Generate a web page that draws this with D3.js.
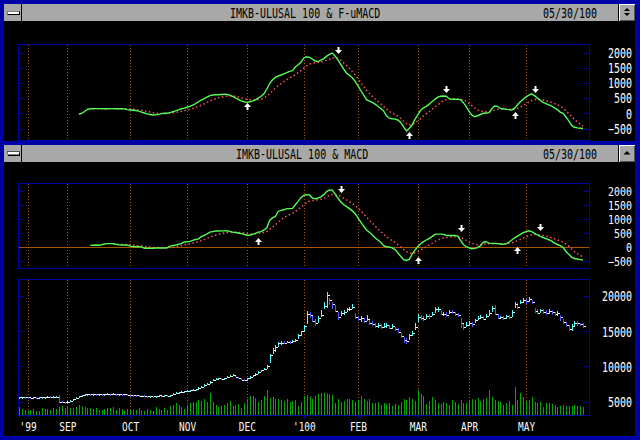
<!DOCTYPE html>
<html><head><meta charset="utf-8">
<script src="https://cdn.jsdelivr.net/npm/d3@7"></script>
<style>html,body{margin:0;padding:0;background:#000;}svg{display:block}</style>
</head><body><svg id="c" width="640" height="440"></svg>
<script>
// ---------------- DATA ----------------
const titles = ["IMKB-ULUSAL 100 & F-uMACD", "IMKB-ULUSAL 100 & MACD"];
const dateLabel = "05/30/100";
const monthLabels = ["'99","SEP","OCT","NOV","DEC","'100","FEB","MAR","APR","MAY"];
const monthIdx = [3,17,39,59,80,100,119,140,158,178];
const oscTicks = [2000,1500,1000,500,0,-500];
const priceTicks = [20000,15000,10000,5000];

const close = [
5650,5680,5620,5600,5590,5610,5580,5600,5620,5700,
5720,5690,5700,5730,5020,4980,4950,4980,5150,5350,
5550,5750,5980,6050,6080,6060,6100,6080,6110,6090,
6120,6140,6100,6130,6090,6110,6070,6040,6000,5960,
5920,5900,5870,5850,5820,5800,5830,5790,5830,5880,
5860,5900,5870,5950,6150,6280,6350,6420,6480,6540,
6600,6680,6780,6950,7150,7350,7550,7850,8150,8280,
8300,8260,8330,8500,8700,8800,8550,8400,8150,8050,
8300,8550,8750,8950,9200,9450,9700,10100,11600,12300,
12700,13300,13400,13300,13500,13450,13600,13700,14400,15000,
15700,17500,17300,16500,16200,16900,17300,18600,20100,19400,
18800,17900,17000,17600,17800,18100,18200,18500,17000,16700,
16900,16500,16800,16200,16000,15800,15900,15600,15800,15900,
15500,15700,15300,14900,14300,13700,13600,14400,14700,15600,
17000,16900,16800,17200,17100,17500,18100,18200,17500,17500,
17300,17800,17700,17500,17300,16100,15600,15900,16200,16000,
16600,16900,17000,16800,17200,17600,18300,17500,16900,17000,
16900,17100,17000,17800,18900,18500,19200,19500,19300,19600,
19100,17900,17600,18000,17800,17600,17900,17700,17500,17600,
17000,16300,15900,15300,15800,16200,16100,16000,15700];
const high = [
5700,5720,5690,5650,5640,5660,5640,5650,5680,5730,
5760,5740,5740,5770,5900,5080,5020,5030,5200,5380,
5600,5800,6020,6080,6120,6110,6140,6130,6150,6140,
6160,6180,6160,6170,6140,6150,6120,6100,6060,6020,
5980,5950,5920,5910,5880,5860,5870,5850,5870,5920,
5910,5940,5920,5990,6200,6320,6400,6470,6530,6590,
6680,6750,6850,7020,7250,7450,7650,7950,8250,8350,
8380,8340,8400,8580,8800,8880,8780,8550,8380,8200,
8380,8620,8850,9050,9300,9550,9850,10250,11700,12600,
13000,13500,13600,13550,13650,13600,13750,13900,14550,15100,
15900,17900,17800,17200,16800,17100,18000,19200,20600,19700,
19100,18700,17800,17900,18000,18300,18500,18900,17600,17100,
17100,16900,17300,16700,16400,16100,16200,16000,16100,16200,
15900,16000,15600,15400,14700,14200,14100,14600,15000,16100,
17500,17300,17100,17500,17400,17700,18500,18500,18000,17800,
17700,18000,18000,17800,17600,16900,16000,16300,16400,16300,
16800,17200,17300,17100,17500,18000,18600,18700,17400,17200,
17200,17300,17300,18000,19200,19000,19400,19700,19600,19800,
19500,18300,18100,18200,18200,18000,18200,18000,17800,17900,
17300,16700,16300,15900,16000,16400,16400,16200,16100];
const low = [
5600,5630,5600,5560,5550,5570,5550,5560,5590,5620,
5680,5650,5660,5680,4850,4930,4880,4900,5000,5150,
5350,5550,5800,5960,6020,6010,6040,6030,6050,6040,
6060,6080,6060,6070,6040,6050,6020,5990,5950,5910,
5870,5850,5820,5800,5780,5760,5770,5750,5780,5820,
5820,5840,5830,5860,5950,6120,6250,6330,6400,6450,
6520,6580,6650,6750,6950,7150,7350,7550,7900,8100,
8200,8180,8230,8300,8500,8650,8480,8300,8050,7900,
8000,8280,8550,8750,8950,9150,9450,9700,10500,11800,
12000,12800,13100,13150,13300,13250,13350,13450,13900,14300,
14900,16000,16900,16300,15700,16200,17000,18200,18300,18700,
18200,17700,16600,17100,17300,17700,17900,18100,16700,16400,
16300,16200,16400,15900,15700,15500,15500,15300,15400,15500,
15300,15300,15000,14700,14000,13300,13200,13800,14300,15200,
16300,16600,16400,16800,16800,17100,17600,17800,17300,17100,
17000,17400,17400,17200,17000,15500,15200,15600,15700,15600,
16200,16600,16700,16600,16900,17200,17800,17300,16700,16700,
16600,16800,16700,17000,18300,18200,18800,19000,18900,19200,
18800,17600,17400,17600,17400,17300,17500,17300,17200,17200,
16500,16000,15600,15000,15100,15700,15800,15700,15500];
const volume = [
26,20,17,15,17,20,15,15,22,20,
20,18,22,20,28,30,23,30,25,22,
28,33,30,28,25,22,20,22,18,18,
20,25,22,28,18,22,20,15,20,18,
17,18,22,18,15,20,18,15,28,20,
18,22,17,30,35,40,33,28,20,35,
40,45,42,50,48,55,45,75,42,35,
28,30,35,40,48,30,35,38,25,40,
55,62,65,58,45,50,62,85,58,60,
55,52,50,48,55,42,48,50,30,45,
62,68,62,55,65,70,75,72,75,70,
68,40,52,45,48,55,55,50,45,50,
62,55,48,52,40,40,45,35,40,38,
40,30,38,35,45,55,50,60,52,48,
82,70,62,38,48,60,50,40,38,45,
40,35,50,42,38,50,40,40,48,55,
50,58,48,55,58,85,60,50,48,42,
35,40,48,35,95,50,72,60,48,50,
60,45,40,42,28,40,40,38,35,28,
30,33,30,30,30,33,30,30,28];

const fuMacdStart = 21;
const fuMacd = [
-30,0,60,130,150,155,155,155,155,150,
150,155,155,150,150,150,145,120,110,100,
90,70,40,10,-20,-40,-55,-50,-35,-10,
0,0,20,50,80,110,150,170,200,230,
270,320,380,430,480,530,580,600,610,610,
620,630,620,600,560,510,460,410,380,360,
380,400,440,500,560,640,800,980,1100,1180,
1230,1260,1300,1340,1380,1400,1520,1600,1680,1820,
1860,1840,1780,1720,1700,1750,1800,1880,1940,1980,
1880,1750,1600,1450,1320,1250,1170,1050,900,750,
600,450,400,360,300,230,160,80,-80,-160,
-180,-190,-220,-300,-450,-580,-500,-380,-200,-50,
100,180,230,300,380,460,530,560,570,560,
480,460,460,460,450,350,220,60,-60,-110,
-80,-40,0,10,20,150,240,230,160,150,
130,120,110,170,280,380,460,540,600,640,
580,500,420,360,320,280,240,180,120,40,
0,-120,-250,-400,-460,-480,-490,-500];
const fuSignalStart = 26;
const fuSignal = [
140,145,148,150,151,151,152,153,152,152,
151,150,144,137,130,122,112,98,80,60,
40,20,5,-5,-6,-5,-4,0,10,25,
42,62,84,107,131,160,190,228,270,315,
360,405,445,480,508,530,550,565,572,570,
560,540,515,490,465,450,440,440,450,470,
505,565,650,740,830,910,980,1045,1105,1160,
1210,1270,1335,1400,1485,1560,1615,1650,1665,1670,
1685,1705,1740,1780,1820,1830,1815,1740,1660,1570,
1470,1370,1260,1140,1010,880,760,650,560,470,
390,310,230,140,60,0,-40,-90,-170,-260,
-340,-380,-370,-320,-250,-170,-90,-10,60,130,
210,280,350,410,450,470,475,470,465,460,
440,400,330,250,170,115,80,60,50,48,
70,105,130,135,140,140,135,130,140,165,
205,255,315,370,425,455,465,455,435,410,
385,355,320,280,240,170,80,-10,-100,-200,
-290,-360,-420];

const macdStart = 25;
const macd = [
70,75,80,75,90,120,130,130,130,110,
85,80,85,75,40,25,20,25,15,-35,
-35,-40,-35,-30,-25,-25,-25,-20,40,60,
80,110,130,190,200,210,250,280,300,380,
430,480,540,560,580,580,585,585,590,570,
540,530,510,490,460,430,430,460,500,540,
560,620,700,960,1050,1100,1280,1320,1340,1380,
1380,1390,1520,1640,1780,1850,1880,1870,1760,1730,
1760,1800,1880,1990,2050,2040,1900,1750,1620,1520,
1450,1380,1300,1200,1050,900,750,620,540,450,
340,260,180,60,20,10,-20,-80,-200,-320,
-440,-470,-430,-250,-100,20,130,200,260,320,
380,460,470,470,460,430,420,420,420,400,
250,100,20,-20,-50,-40,-10,60,180,200,
150,140,140,130,120,110,120,180,260,340,
400,460,520,560,590,560,500,440,390,350,
310,270,220,150,100,60,0,-150,-250,-350,
-400,-420,-440,-460];
const macdSignalStart = 33;
const macdSignal = [
110,112,108,104,100,96,86,75,65,58,
50,35,20,10,0,-6,-10,-13,-15,-16,
-5,8,22,40,58,85,108,128,152,178,
202,238,276,317,362,402,438,466,490,509,
525,534,536,535,530,522,510,494,481,477,
482,493,506,529,563,642,724,799,895,980,
1052,1118,1170,1214,1275,1348,1435,1518,1590,1646,
1669,1681,1697,1718,1750,1798,1848,1886,1889,1861,
1813,1754,1693,1630,1564,1491,1403,1302,1192,1078,
970,866,761,661,565,464,375,302,238,174,
99,15,-76,-155,-210,-218,-195,-152,-95,-36,
23,82,142,206,259,301,333,353,366,377,
385,388,360,308,250,196,147,110,86,81,
101,121,127,130,132,132,130,126,125,136,
161,197,238,282,330,376,419,447,458,454,
441,423,400,374,343,304,263,222,178,112,
40,-60,-150,-230,-290,-340];

// crossover arrows: bar index, MACD level of arrow tip, direction (1 = up / buy, -1 = down / sell)
const fuArrowIdx = [80,112,137,150,174,181];
const fuArrowVal = [339,1951,-605,658,53,658];
const fuArrowDir = [1,-1,1,-1,1,-1];
const macdArrowIdx = [84,113,140,155,175,183];
const macdArrowVal = [321,1950,-336,557,21,593];
const macdArrowDir = [1,-1,1,-1,1,-1];

// ---------------- DRAWING ----------------
const C = {blue:"#0000a8", gray:"#a8a8a8", dark:"#545454", grid:"#a85400", green:"#54fc54",
  red:"#fc5454", vol:"#00a800", barBlue:"#5454fc", barCyan:"#54fcfc", white:"#fcfcfc"};
const FONT = "'DejaVu Sans Mono', 'Liberation Mono', monospace";
const svg = d3.select("#c").attr("shape-rendering","crispEdges");
svg.append("rect").attr("width",640).attr("height",440).attr("fill","#000");

const x = d3.scaleLinear().domain([0,198]).range([19,583]);
const px = i => Math.round(x(i)) + 0.5;

const panels = [
  {top:44, bottom:140, sy:1.35, y:d3.scaleLinear().domain([-500,2000]).range([128.5,52.5])},
  {top:183, bottom:268, sy:1.18, y:d3.scaleLinear().domain([-500,2000]).range([261.3,191.3])},
  {top:279, bottom:415, sy:1.35, y:d3.scaleLinear().domain([5000,20000]).range([401.7,296])}
];
const yV = d3.scaleLinear().domain([0,100]).range([415,385]);

// text helper: monospaced 10px glyphs (6px per character), stretched vertically
function label(x0, base, str, fill, sy, anchor) {
  return svg.append("g").attr("transform",`translate(${x0},${base}) scale(1,${sy})`)
    .append("text").attr("x",0).attr("y",0).attr("fill",fill).attr("font-family",FONT)
    .attr("font-size",10).attr("text-anchor",anchor||"start").text(str);
}

// window chrome
function titleBar(y0, y1, title, tx, both) {
  svg.append("rect").attr("x",4).attr("y",y0).attr("width",614).attr("height",y1-y0).attr("fill",C.gray);
  svg.append("rect").attr("x",21).attr("y",y0).attr("width",1).attr("height",y1-y0).attr("fill","#000");
  svg.append("rect").attr("x",618).attr("y",y0).attr("width",1).attr("height",y1-y0).attr("fill","#000");
  const my = y0 + 7;
  svg.append("rect").attr("x",8).attr("y",my+1).attr("width",12).attr("height",3).attr("fill","#000");
  svg.append("rect").attr("x",7).attr("y",my).attr("width",12).attr("height",3).attr("fill","#fff").attr("stroke","#000").attr("stroke-width",0.5);
  svg.append("rect").attr("x",619).attr("y",y0).attr("width",16).attr("height",y1-y0).attr("fill",C.gray);
  svg.append("path").attr("d",`M619.5,${y1-0.5}V${y0+0.5}H634.5`).attr("stroke","#fff").attr("fill","none");
  svg.append("path").attr("d",`M620,${y1-0.5}H634.5V${y0+1}`).attr("stroke",C.dark).attr("fill","none");
  const cx = 627;
  if (both) {
    svg.append("path").attr("d",`M${cx-3},${y0+7}L${cx},${y0+4}L${cx+3},${y0+7}Z`).attr("fill","#000").attr("shape-rendering","auto");
    svg.append("path").attr("d",`M${cx-3},${y0+9}L${cx},${y0+12}L${cx+3},${y0+9}Z`).attr("fill","#000").attr("shape-rendering","auto");
  } else {
    svg.append("path").attr("d",`M${cx-3.5},${y0+10}L${cx},${y0+6.5}L${cx+3.5},${y0+10}Z`).attr("fill","#000").attr("shape-rendering","auto");
  }
  label(tx, y0+14.3, title, "#000", 1.35);
  label(543, y0+14.3, dateLabel, "#000", 1.35);
}
titleBar(4, 21, titles[0], 230, true);
titleBar(144.5, 162, titles[1], 236, false);

// blue window borders
[[0,0,640,3.5],[0,0,3.5,440],[635,0,5,440],[0,140.5,640,4],[0,436,640,4]].forEach(r=>
  svg.append("rect").attr("x",r[0]).attr("y",r[1]).attr("width",r[2]).attr("height",r[3]).attr("fill",C.blue));

// plot frames, gridlines, ticks, value labels
panels.forEach((p,k)=>{
  const g = svg.append("g");
  monthIdx.forEach(m=>{
    g.append("line").attr("x1",px(m)).attr("x2",px(m)).attr("y1",p.top+1).attr("y2",p.bottom)
     .attr("stroke",C.grid).attr("stroke-dasharray","1,2");
  });
  const ticks = k<2 ? oscTicks : priceTicks;
  const axL = svg.append("g").attr("transform","translate(18,0)")
    .call(d3.axisRight(p.y).tickValues(ticks).tickSize(6).tickFormat(""));
  const axR = svg.append("g").attr("transform","translate(589,0)")
    .call(d3.axisLeft(p.y).tickValues(ticks).tickSize(6).tickFormat(""));
  [axL,axR].forEach(a=>{a.select(".domain").remove(); a.selectAll("line").attr("stroke",C.blue);});
  const lab = svg.append("g").attr("transform","translate(632,0)")
    .call(d3.axisLeft(p.y).tickValues(ticks).tickSize(0).tickPadding(0).tickFormat(d3.format("d")));
  lab.select(".domain").remove();
  lab.selectAll("text").attr("fill",C.white).attr("font-family",FONT).attr("font-size",10)
    .attr("x",0).attr("dy","0.36em").attr("transform",`scale(1,${p.sy})`);
  svg.append("rect").attr("x",18.5).attr("y",p.top+0.5).attr("width",571).attr("height",p.bottom-p.top)
    .attr("fill","none").attr("stroke",C.blue);
});

// zero line in MACD panel
svg.append("line").attr("x1",19).attr("x2",589).attr("y1",Math.round(panels[1].y(0))+0.5)
  .attr("y2",Math.round(panels[1].y(0))+0.5).attr("stroke",C.grid);

// oscillator lines
function osc(p, vals, start, sig, sigStart, aIdx, aVal, aDir) {
  const line = d3.line().x(d=>x(d.i)).y(d=>p.y(d.v));
  const sv = sig.map((v,k)=>({i:sigStart+k, v}));
  const mv = vals.map((v,k)=>({i:start+k, v}));
  svg.append("path").attr("d",line(sv)).attr("fill","none").attr("stroke",C.red)
    .attr("stroke-width",1.5).attr("stroke-dasharray","1.5,2.5").attr("shape-rendering","auto");
  svg.append("path").attr("d",line(mv)).attr("fill","none").attr("stroke",C.green)
    .attr("stroke-width",1.4).attr("shape-rendering","auto");
  aIdx.forEach((ai,k)=>{
    const cx = px(ai), t = Math.round(p.y(aVal[k])), s = aDir[k];
    const pts = [[0,0],[3.5,4*s],[1,4*s],[1,7*s],[-1,7*s],[-1,4*s],[-3.5,4*s]];
    svg.append("path").attr("d","M"+pts.map(q=>(cx+q[0])+","+(t+q[1])).join("L")+"Z")
      .attr("fill",C.white).attr("shape-rendering","auto");
  });
}
osc(panels[0], fuMacd, fuMacdStart, fuSignal, fuSignalStart, fuArrowIdx, fuArrowVal, fuArrowDir);
osc(panels[1], macd, macdStart, macdSignal, macdSignalStart, macdArrowIdx, macdArrowVal, macdArrowDir);

// volume
svg.append("g").selectAll("line").data(volume).join("line")
  .attr("x1",(d,i)=>px(i)).attr("x2",(d,i)=>px(i))
  .attr("y1",415).attr("y2",d=>Math.round(yV(d))).attr("stroke",C.vol);

// price bars
const yP = panels[2].y;
const gb = svg.append("g");
gb.selectAll("line.bar").data(close).join("line").attr("class","bar")
  .attr("x1",(d,i)=>px(i)).attr("x2",(d,i)=>px(i))
  .attr("y1",(d,i)=>Math.round(yP(high[i]))).attr("y2",(d,i)=>Math.max(Math.round(yP(low[i])),Math.round(yP(high[i]))+2))
  .attr("stroke",(d,i)=> (i===0 || d>=close[i-1]) ? C.barCyan : C.barBlue);
gb.selectAll("line.cl").data(close).join("line").attr("class","cl")
  .attr("x1",(d,i)=>px(i)+0.5).attr("x2",(d,i)=>px(i)+2.5)
  .attr("y1",d=>Math.round(yP(d))+0.5).attr("y2",d=>Math.round(yP(d))+0.5).attr("stroke",C.white);

// month axis
const ax = svg.append("g").attr("transform","translate(0,415)")
  .call(d3.axisBottom(x).tickValues(monthIdx).tickSize(3).tickPadding(0).tickFormat((d,i)=>monthLabels[i]));
ax.select(".domain").remove();
ax.selectAll("line").attr("stroke",C.blue);
ax.selectAll("text").attr("fill",C.white).attr("font-family",FONT).attr("font-size",9.5)
  .attr("y",0).attr("dy",0).attr("transform","translate(0,15.7) scale(1,1.3)");
</script></body></html>
